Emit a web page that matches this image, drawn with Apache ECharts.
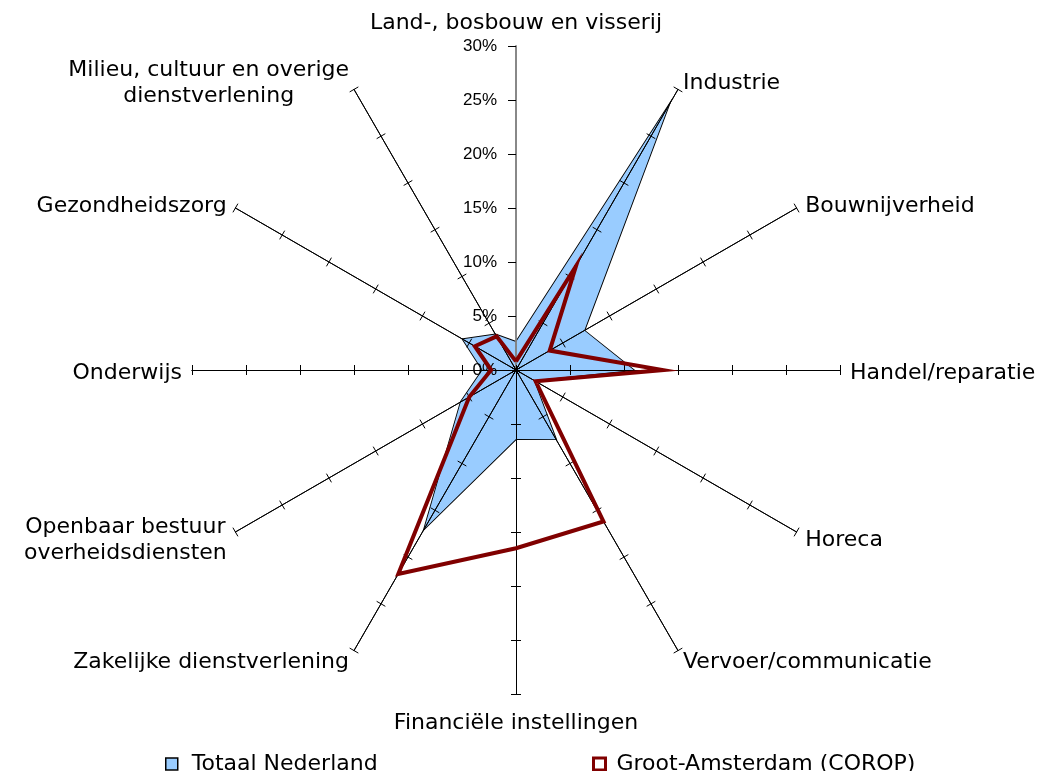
<!DOCTYPE html>
<html>
<head>
<meta charset="utf-8">
<script src="https://cdn.jsdelivr.net/npm/echarts@6.0.0/dist/echarts.min.js"></script>
<style>
html, body { margin: 0; padding: 0; background: #fff; }
#main { width: 1045px; height: 771px; }
</style>
</head>
<body>
<div id="main"></div>
<script>
// sectoren, met de klok mee vanaf boven
var sectoren = [
    'Land-, bosbouw en visserij',
    'Industrie',
    'Bouwnijverheid',
    'Handel/reparatie',
    'Horeca',
    'Vervoer/communicatie',
    'Financiële instellingen',
    'Zakelijke dienstverlening',
    'Openbaar bestuur\noverheidsdiensten',
    'Onderwijs',
    'Gezondheidszorg',
    'Milieu, cultuur en overige\ndienstverlening'
];
var totaalNederland = [2.6, 28.3, 7.3, 10.9, 1.9, 7.4, 6.4, 17.0, 5.9, 3.1, 5.7, 3.8];
var grootAmsterdam = [0.8, 11.1, 3.6, 13.6, 2.1, 16.2, 16.5, 21.8, 5.0, 2.3, 4.4, 3.6];
var asMin = 0;
var asMax = 30;
var asStap = 5;

// echarts zet de assen tegen de klok in, dus volgorde omdraaien (eerste blijft boven)
function kloksgewijs(arr) {
    return [arr[0]].concat(arr.slice(1).reverse());
}

var dom = document.getElementById('main');
var myChart = echarts.init(dom, null, { renderer: 'canvas' });

var namen = kloksgewijs(sectoren);
var indicatorBasis = namen.map(function (n, i) {
    var ind = { name: n, min: asMin, max: asMax };
    if (i === 0) {
        ind.axisLabel = { show: true, margin: 19 };
        ind.axisTick = { length: 8 };
        ind.axisLine = { lineStyle: { color: '#808080', width: 1.5 } };
    }
    return ind;
});
// tweede radar alleen voor de streepjes aan de andere kant van de as
var indicatorTicks = namen.map(function (n, i) {
    var ind = { name: n, min: asMin, max: asMax };
    if (i === 0) {
        ind.axisTick = { show: false };
        ind.axisLine = { lineStyle: { color: '#808080', width: 1.5 } };
    }
    return ind;
});

var option = {
    animation: false,
    legend: [{
        left: 160,
        top: 748,
        itemWidth: 12,
        itemHeight: 12,
        textStyle: { fontFamily: 'DejaVu Sans', fontSize: 22, color: '#000', padding: [0, 0, 0, 9] },
        data: [{ name: 'Totaal Nederland', icon: 'rect', itemStyle: { color: '#99ccff', borderColor: '#000', borderWidth: 1.5 } }]
    }, {
        left: 587,
        top: 748,
        itemWidth: 12,
        itemHeight: 12,
        textStyle: { fontFamily: 'DejaVu Sans', fontSize: 22, color: '#000', padding: [0, 0, 0, 6] },
        data: [{ name: 'Groot-Amsterdam (COROP)', icon: 'rect', itemStyle: { color: '#fff', borderColor: '#800000', borderWidth: 3 } }]
    }],
    radar: [{
        center: [516, 370],
        radius: 324,
        startAngle: 90,
        splitNumber: (asMax - asMin) / asStap,
        shape: 'polygon',
        z: 3,
        nameGap: 10,
        axisName: {
            color: '#000',
            fontFamily: 'DejaVu Sans',
            fontSize: 22,
            lineHeight: 26,
            padding: [6, 0, 0, 0],
            formatter: function (value) {
                if (value.indexOf('\n') < 0) return value;
                return value.split('\n').map(function (r) { return '{c|' + r + '}'; }).join('\n');
            },
            rich: {
                c: { align: 'center', fontFamily: 'DejaVu Sans', fontSize: 22, lineHeight: 26, color: '#000' }
            }
        },
        axisLine: { show: true, lineStyle: { color: '#000', width: 1 } },
        axisTick: { show: true, length: 5, lineStyle: { color: '#000', width: 1 } },
        axisLabel: {
            show: false,
            formatter: '{value}%',
            color: '#000',
            fontFamily: 'Liberation Sans',
            fontSize: 17
        },
        splitLine: { show: false },
        splitArea: { show: false },
        indicator: indicatorBasis
    }, {
        center: [516, 370],
        radius: 324,
        startAngle: 90,
        splitNumber: (asMax - asMin) / asStap,
        shape: 'polygon',
        z: 3,
        axisName: { show: false },
        axisLine: { show: true, lineStyle: { color: '#000', width: 1 } },
        axisTick: { show: true, length: -5, lineStyle: { color: '#000', width: 1 } },
        axisLabel: { show: false },
        splitLine: { show: false },
        splitArea: { show: false },
        indicator: indicatorTicks
    }],
    series: [{
        name: 'Totaal Nederland',
        type: 'radar',
        radarIndex: 0,
        symbol: 'none',
        z: 2,
        data: [{
            name: 'Totaal Nederland',
            value: kloksgewijs(totaalNederland),
            areaStyle: { color: '#99ccff', opacity: 1 },
            lineStyle: { color: '#000', width: 1.8, join: 'miter' },
            itemStyle: { color: '#99ccff' }
        }]
    }, {
        name: 'Groot-Amsterdam (COROP)',
        type: 'radar',
        radarIndex: 0,
        symbol: 'none',
        z: 4,
        data: [{
            name: 'Groot-Amsterdam (COROP)',
            value: kloksgewijs(grootAmsterdam),
            lineStyle: { color: '#800000', width: 4, join: 'miter', miterLimit: 20 },
            itemStyle: { color: '#800000' }
        }]
    }]
};

myChart.setOption(option);
window.addEventListener('resize', myChart.resize);
</script>
</body>
</html>
